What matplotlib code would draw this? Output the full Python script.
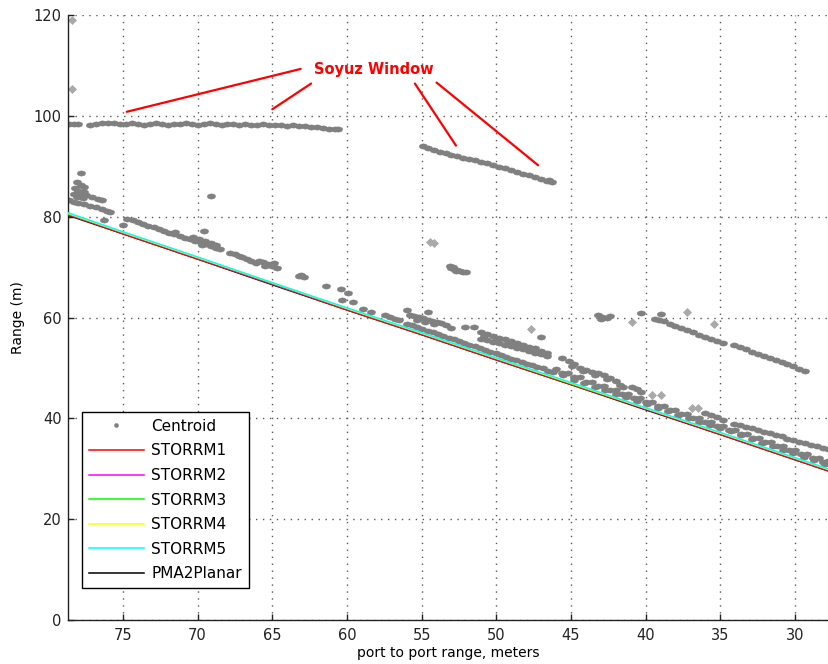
import matplotlib
matplotlib.use("Agg")
import matplotlib.pyplot as plt
import numpy as np

# ---- range estimates (port to port range in m, range in m) ----
line_x = [78.7, 75.0, 70.0, 65.0, 60.0, 55.0, 50.0, 45.0, 40.0, 35.0, 30.0, 27.7]
storrm5 = [80.8, 77.0, 72.0, 66.9, 61.9, 57.0, 52.0, 47.1, 42.1, 37.2, 32.2, 29.9]
storrm4 = [80.7, 76.9, 71.9, 66.9, 61.8, 56.9, 51.9, 47.0, 42.0, 37.1, 32.1, 29.8]
storrm3 = [80.6, 76.9, 71.9, 66.8, 61.8, 56.9, 51.9, 46.9, 42.0, 37.1, 32.1, 29.8]
storrm2 = [80.5, 76.8, 71.8, 66.7, 61.7, 56.8, 51.8, 46.9, 41.9, 37.0, 32.0, 29.7]
storrm1 = [80.4, 76.6, 71.6, 66.6, 61.5, 56.6, 51.6, 46.7, 41.8, 36.8, 31.8, 29.5]
pma2planar = [80.3, 76.6, 71.6, 66.5, 61.5, 56.6, 51.6, 46.7, 41.7, 36.8, 31.8, 29.5]

# ---- centroid returns, grouped by cluster (x, y) ----
soyuz_upper = [
    (78.6, 98.3), (78.3, 98.4), (78.0, 98.3),
    (77.2, 98.2), (76.8, 98.3), (76.4, 98.5), (76.0, 98.6), (75.6, 98.6), (75.2, 98.4),
    (74.8, 98.3), (74.4, 98.5), (74.0, 98.3), (73.6, 98.2), (73.2, 98.4), (72.8, 98.5),
    (72.4, 98.3), (72.0, 98.2), (71.6, 98.4), (71.2, 98.3), (70.8, 98.5), (70.4, 98.3),
    (70.0, 98.2), (69.6, 98.4), (69.2, 98.5), (68.8, 98.3), (68.4, 98.2), (68.0, 98.3),
    (67.6, 98.4), (67.2, 98.2), (66.8, 98.3), (66.4, 98.2), (66.0, 98.1), (65.6, 98.3),
    (65.2, 98.2), (64.8, 98.1), (64.4, 98.2), (64.0, 98.0), (63.6, 98.1), (63.2, 97.9),
    (62.8, 98.0), (62.4, 97.8), (62.0, 97.7), (61.6, 97.6), (61.2, 97.4), (60.8, 97.3),
    (60.6, 97.4),
]
soyuz_lower = [
    (54.9, 94.0), (54.6, 93.6), (54.2, 93.2), (53.8, 92.9), (53.4, 92.6), (53.0, 92.3),
    (52.6, 92.0), (52.2, 91.7), (51.8, 91.5), (51.4, 91.2), (51.0, 90.9), (50.6, 90.6),
    (50.2, 90.3), (49.8, 89.9), (49.4, 89.6), (49.0, 89.2), (48.6, 88.9), (48.2, 88.5),
    (47.8, 88.2), (47.4, 87.8), (47.0, 87.5), (46.6, 87.1), (46.3, 86.9), (46.5, 87.3),
]
left_cluster = [
    (77.8, 88.7), (78.1, 86.8), (77.8, 86.2), (78.2, 85.6), (77.6, 85.8), (78.0, 85.0),
    (77.6, 84.9), (78.3, 84.5), (77.9, 84.3), (77.5, 84.2), (78.1, 83.9), (77.7, 83.7),
    (77.1, 83.9), (76.7, 83.6), (76.4, 83.4),
]
left_band_a = [
    (78.6, 83.3), (78.3, 83.0), (78.0, 82.8), (77.6, 82.5), (77.2, 82.2), (76.8, 81.9),
    (76.4, 81.6), (76.1, 81.2), (75.9, 80.9), (76.3, 79.3), (75.0, 78.3),
]
left_band_b = [
    (74.7, 79.6), (74.35, 79.3), (74.0, 78.9), (73.65, 78.6), (73.3, 78.2), (72.95, 77.9),
    (72.6, 77.5), (72.25, 77.2), (71.9, 76.8), (71.55, 76.5), (71.2, 76.2), (70.85, 75.8),
    (70.5, 75.5), (70.15, 75.2), (69.8, 74.9), (69.45, 74.5), (69.1, 74.2), (68.75, 73.8),
    (68.5, 73.5), (70.3, 75.9), (69.9, 75.6), (69.5, 75.2), (69.1, 74.8), (68.8, 74.4),
    (69.7, 74.3),
]
left_outliers = [(69.1, 84.1), (69.6, 77.2), (71.5, 77.0), (63.2, 68.2)]
left_band_c = [
    (67.8, 72.8), (67.5, 72.5), (67.2, 72.2), (67.0, 72.0), (66.7, 71.6), (66.4, 71.3),
    (66.1, 70.9), (65.9, 71.3), (65.6, 71.0), (65.3, 70.7), (65.0, 70.3), (64.7, 69.9),
    (65.5, 70.3), (64.9, 70.9),
]
mid_upper = [
    (63.1, 68.4), (62.9, 68.1), (61.4, 66.2), (60.4, 65.6), (59.9, 64.8), (60.3, 63.5),
    (59.6, 63.1), (58.9, 61.6), (58.4, 61.1),
]
mid_patch = [
    (53.1, 70.3), (52.9, 70.1), (52.8, 69.7), (52.6, 69.4), (52.4, 69.2), (52.2, 69.0),
    (52.0, 69.0), (53.0, 69.8), (52.7, 69.2),
]
mid_cluster = [
    (57.45, 60.5), (57.1, 60.1), (56.8, 59.8), (56.5, 59.5),
    (56.0, 61.5), (54.6, 61.1), (55.8, 60.5), (55.5, 60.3), (55.2, 60.1), (54.9, 59.9),
    (54.6, 59.6), (54.3, 59.4), (54.0, 59.1), (53.7, 58.9), (53.4, 58.6), (55.3, 59.6),
    (54.8, 59.2), (54.2, 58.8), (53.0, 57.9), (52.1, 58.2), (51.5, 58.2),
]
mid_blob = [
    (51.0, 57.1), (50.6, 56.8), (50.2, 56.4), (49.8, 56.0), (49.4, 55.7), (49.0, 55.3),
    (48.6, 55.0), (48.2, 54.6), (47.8, 54.2), (47.4, 53.9), (47.0, 53.4), (46.6, 52.9),
    (51.0, 55.7), (50.6, 55.5), (50.2, 55.2), (49.8, 54.9), (49.4, 54.6), (49.0, 54.3),
    (48.6, 54.0), (48.2, 53.7), (47.8, 53.4), (47.4, 53.0), (47.0, 52.7), (46.6, 52.3),
    (50.8, 56.4), (50.0, 55.8), (49.2, 55.0), (48.4, 54.3), (47.6, 53.7),
    (47.0, 56.1), (45.6, 52.0),
]
right_band = [
    (45.1, 51.3), (44.8, 50.7), (44.4, 50.0), (44.0, 49.6), (43.6, 49.2), (43.2, 48.9),
    (42.8, 48.5), (42.4, 48.0), (42.0, 47.4), (41.7, 46.7), (41.5, 46.2), (44.9, 50.3),
    (44.2, 49.4), (43.4, 48.6), (42.6, 47.9),
    (40.9, 46.2), (40.6, 45.8), (40.3, 45.3),
    (36.0, 41.0), (35.6, 40.6), (35.2, 40.3), (34.8, 39.7),
]
right_upper = [
    (34.1, 38.9), (33.7, 38.6), (33.3, 38.3), (32.9, 38.0), (32.5, 37.6), (32.1, 37.3),
    (31.7, 37.0), (31.3, 36.7), (30.9, 36.4), (30.5, 36.0), (30.1, 35.7), (29.7, 35.4),
    (29.3, 35.1), (28.9, 34.8), (28.5, 34.5), (28.1, 34.2), (27.8, 33.9),
]
right_top = [
    (43.2, 60.4), (42.9, 60.1), (42.6, 59.9), (42.4, 60.3), (43.0, 59.7),
    (40.3, 60.8), (39.0, 60.6), (39.4, 59.8), (39.1, 59.5), (38.8, 59.3),
    (38.4, 58.8), (38.0, 58.4), (37.6, 58.0), (37.2, 57.6), (36.8, 57.1), (36.4, 56.6),
    (36.0, 56.1), (35.6, 55.7), (35.2, 55.3), (34.8, 54.9),
    (34.1, 54.5), (33.7, 54.1), (33.3, 53.7), (32.9, 53.2), (32.5, 52.8), (32.1, 52.3),
    (31.7, 51.9), (31.3, 51.5), (30.9, 51.1), (30.5, 50.7), (30.1, 50.3), (29.7, 49.8),
    (29.35, 49.3),
]
near_line_a = [
    (56.0, 58.8), (55.3, 58.2), (54.6, 57.4), (53.9, 56.8), (53.2, 56.0), (52.5, 55.4),
    (51.8, 54.6), (51.1, 54.0), (50.4, 53.2), (49.7, 52.6), (49.0, 51.8), (48.3, 51.2),
    (47.6, 50.5), (46.9, 49.9), (46.2, 49.1), (45.5, 48.5), (44.8, 47.7), (44.1, 47.1),
    (43.4, 46.3), (42.7, 45.7), (42.0, 44.9), (41.3, 44.3), (40.6, 43.5), (39.9, 42.9),
    (39.2, 42.1), (38.5, 41.5), (37.8, 40.7), (37.1, 40.1), (36.4, 39.3), (35.7, 38.7),
    (35.0, 38.0), (34.3, 37.4), (33.6, 36.6), (32.9, 36.0), (32.2, 35.2), (31.5, 34.6),
    (30.8, 33.8), (30.1, 33.2), (29.4, 32.4), (28.7, 31.8), (28.0, 31.0),
    (55.65, 58.5), (54.95, 57.8), (54.25, 57.1), (53.55, 56.4), (52.85, 55.7),
    (52.15, 55.0), (51.45, 54.3), (50.75, 53.6), (50.05, 52.9), (49.35, 52.2),
    (48.65, 51.5), (47.95, 50.8), (47.25, 50.1), (46.55, 49.4),
]
near_line_b = [
    (46.0, 49.7), (45.2, 48.9), (44.4, 48.1), (43.6, 47.3), (42.8, 46.5), (42.0, 45.7),
    (41.2, 44.9), (40.4, 44.1), (39.6, 43.3), (38.8, 42.5), (38.0, 41.7), (37.2, 40.9),
    (36.4, 40.1), (35.6, 39.3), (34.8, 38.5), (34.0, 37.7), (33.2, 36.9), (32.4, 36.1),
    (31.6, 35.3), (30.8, 34.5), (30.0, 33.7), (29.2, 32.9), (28.4, 32.1), (27.8, 31.5),
]
near_line_c = [
    (45.6, 48.9), (44.8, 48.1), (44.0, 47.3), (43.2, 46.5), (42.4, 45.7), (41.6, 44.9),
    (40.8, 44.1), (40.0, 43.3), (39.2, 42.5), (38.4, 41.7), (37.6, 40.9), (36.8, 40.1),
    (36.0, 39.3), (35.2, 38.5), (34.4, 37.7), (33.6, 36.9), (32.8, 36.1), (32.0, 35.3),
    (31.2, 34.5), (30.4, 33.7), (29.6, 32.9), (28.8, 32.1), (28.1, 31.4),
]
# isolated, faintly drawn returns
faint_points = [
    (78.4, 119.1), (78.4, 105.3), (54.44, 75.0), (54.15, 74.7), (47.7, 57.8),
    (39.6, 44.6), (39.0, 44.6), (36.9, 42.0), (36.5, 42.0), (40.9, 59.2),
    (37.2, 61.0), (35.4, 58.7),
]

centroid_groups = [soyuz_upper, soyuz_lower, left_cluster, left_band_a, left_band_b,
                   left_outliers, left_band_c, mid_upper, mid_patch, mid_cluster,
                   mid_blob, right_band, right_upper, right_top, near_line_a, near_line_b,
                   near_line_c]

# annotation: label position and pointer segments (data coords)
soyuz_label = (58.2, 109.2)
soyuz_pointers = [
    ((74.75, 100.8), (63.1, 109.3)),
    ((65.0, 101.3), (62.4, 106.4)),
    ((55.45, 106.4), (52.7, 94.1)),
    ((54.0, 106.6), (47.2, 90.2)),
]


def make_plot():
    plt.rcParams['font.family'] = ['DejaVu Sans']
    fig = plt.figure(figsize=(8.29, 6.64), dpi=100)
    ax = fig.add_axes([68 / 829, 44 / 664, 761 / 829, 605 / 664])

    # flattened blob marker, the returns smear into bands
    ang = np.deg2rad(np.arange(0, 360, 30))
    blob = list(zip(np.cos(ang), 0.62 * np.sin(ang)))

    pts = np.concatenate([np.array(g, dtype=float) for g in centroid_groups])
    cen, = ax.plot(pts[:, 0], pts[:, 1], linestyle='none', marker=blob, markersize=6.2,
                   color='#808080', markeredgewidth=0.3, zorder=2, label='Centroid')
    faint = np.array(faint_points)
    ax.plot(faint[:, 0], faint[:, 1], linestyle='none', marker='D', markersize=3.6,
            color='#a9a9a9', markeredgewidth=0.5, zorder=2)

    h_pma, = ax.plot(line_x, pma2planar, color='black', lw=1.1, zorder=3, label='PMA2Planar')
    series = [(storrm1, '#ff0000', 'STORRM1'), (storrm2, '#ff00ff', 'STORRM2'),
              (storrm3, '#00ff00', 'STORRM3'), (storrm4, '#ffff00', 'STORRM4'),
              (storrm5, '#00ffff', 'STORRM5')]
    handles = [cen]
    for vals, col, name in series:
        h, = ax.plot(line_x, vals, color=col, lw=1.1, zorder=3, label=name)
        handles.append(h)
    handles.append(h_pma)

    # Soyuz window annotation
    ax.text(soyuz_label[0], soyuz_label[1], 'Soyuz Window', color='red', fontsize=10.5,
            fontweight='bold', ha='center', va='center', zorder=5)
    for (x0, y0), (x1, y1) in soyuz_pointers:
        ax.plot([x0, x1], [y0, y1], color='red', lw=1.6, zorder=5, solid_capstyle='round')

    ax.set_xlim(78.68, 27.72)
    ax.set_ylim(0, 120)
    ax.set_xticks([75, 70, 65, 60, 55, 50, 45, 40, 35, 30])
    ax.set_yticks([0, 20, 40, 60, 80, 100, 120])
    ax.grid(True, linestyle=(0, (1, 4)), color='0.35', linewidth=1.0)
    ax.set_axisbelow(True)

    for side in ['top', 'right']:
        ax.spines[side].set_visible(False)
    for side in ['left', 'bottom']:
        ax.spines[side].set_linewidth(1.0)
        ax.spines[side].set_color('#222222')
    ax.tick_params(axis='both', direction='in', length=4, width=1.0, labelsize=10.5,
                   colors='#222222', top=False, right=False)
    ax.tick_params(axis='x', pad=6)
    ax.tick_params(axis='y', pad=4.5)

    ax.set_xlabel('port to port range, meters', fontsize=10, labelpad=2)
    ax.set_ylabel('Range (m)', fontsize=10, labelpad=6)

    leg = ax.legend(handles=handles, loc='lower left', bbox_to_anchor=(0.018, 0.0524),
                    borderaxespad=0, fontsize=11, fancybox=False, framealpha=1,
                    edgecolor='black', handlelength=3.6, handletextpad=0.5,
                    labelspacing=0.63, borderpad=0.45, numpoints=1)
    leg.get_frame().set_linewidth(1.0)
    leg.legend_handles[0].set_marker('o')
    leg.legend_handles[0].set_markersize(3)

    fig.savefig('out.png', dpi=100)
    plt.close(fig)


if __name__ == "__main__":
    make_plot()
